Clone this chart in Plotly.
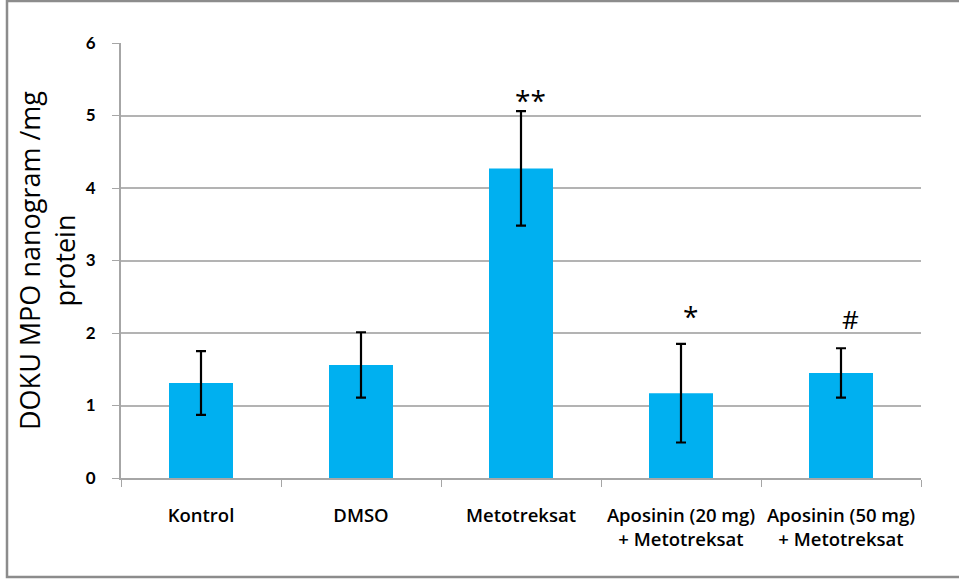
import plotly.graph_objects as go

# Tissue MPO levels per group (mean ± SD)
groups = ["Kontrol", "DMSO", "Metotreksat",
          "Aposinin (20 mg)<br>+ Metotreksat", "Aposinin (50 mg)<br>+ Metotreksat"]
mpo_mean = [1.31, 1.56, 4.27, 1.17, 1.45]
mpo_sd = [0.44, 0.45, 0.79, 0.68, 0.34]
significance = ["", "", "**", "*", "#"]
sig_y = [None, None, 5.22, 2.24, 2.19]
y_ticks = [0, 1, 2, 3, 4, 5, 6]

fig = go.Figure()
fig.add_trace(go.Bar(
    x=groups,
    y=mpo_mean,
    width=0.4,
    marker=dict(color="#00B0F0", line=dict(width=0)),
    error_y=dict(type="data", array=mpo_sd, visible=True,
                 color="black", thickness=2.2, width=5),
    showlegend=False,
))

for g, s, yv in zip(groups, significance, sig_y):
    if s:
        fig.add_annotation(x=g, y=yv, text=s, showarrow=False, xshift=9,
                           yanchor="middle",
                           font=dict(size=28 if s != "#" else 26, color="black",
                                     family="Open Sans"))

fig.update_layout(
    width=959, height=581,
    margin=dict(l=121, r=38, t=43, b=103),
    paper_bgcolor="white", plot_bgcolor="white",
    font=dict(family="Open Sans", color="black"),
    bargap=0.6,
    yaxis=dict(
        range=[0, 6], tickvals=y_ticks, ticks="outside", ticklen=7,
        tickcolor="#a6a6a6", showline=True, linecolor="#a6a6a6", linewidth=2,
        showgrid=True, gridcolor="#b3b3b3", gridwidth=1.5, zeroline=False,
        ticklabelstandoff=13,
        tickfont=dict(size=17, family="Lato", weight="bold"),
        title=dict(text="DOKU MPO nanogram /mg<br>protein",
                   font=dict(size=27, family="Open Sans"), standoff=2),
    ),
    xaxis=dict(
        ticks="outside", tickson="boundaries", ticklen=7, tickcolor="#a6a6a6",
        showline=True, linecolor="#a6a6a6", linewidth=2,
        ticklabelstandoff=20,
        tickfont=dict(size=18.5, family="Open Sans", weight=600),
    ),
    shapes=[dict(type="rect", xref="paper", yref="paper",
                 x0=(7 - 121) / 800, x1=(964 - 121) / 800,
                 y0=(478 - 577) / 435, y1=(478 - 1) / 435,
                 line=dict(color="#8c8c8c", width=2.5), layer="below")],
)

fig.write_html("out.html")
